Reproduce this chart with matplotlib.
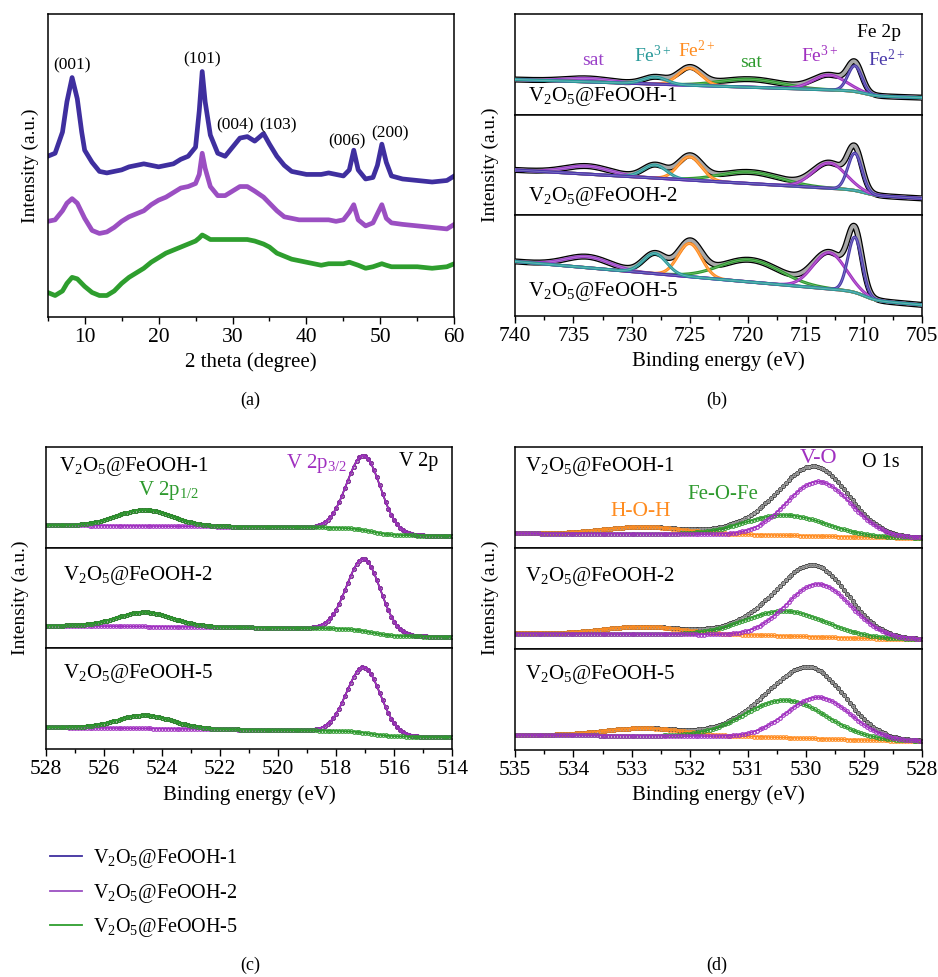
import numpy as np
import matplotlib
matplotlib.use('Agg')
import matplotlib.pyplot as plt
from matplotlib.lines import Line2D

plt.rcParams['font.family'] = ['Liberation Serif', 'DejaVu Serif']
plt.rcParams['mathtext.fontset'] = 'custom'
plt.rcParams['mathtext.rm'] = 'Liberation Serif'
plt.rcParams['mathtext.it'] = 'Liberation Serif:italic'
plt.rcParams['axes.linewidth'] = 1.1

# ---------------- data ----------------
samples = ['V$_2$O$_5$@FeOOH-1', 'V$_2$O$_5$@FeOOH-2', 'V$_2$O$_5$@FeOOH-5']
xrd_colors = ['#3f2f9f', '#9b4fc2', '#2e9e2e']

# XRD (a), intensities (a.u., stacked)
theta = [5, 6, 7, 7.6, 8.3, 9, 9.6, 10, 11, 12, 13, 14, 15, 16, 17, 18, 19, 20,
         21, 22, 23, 24, 25, 25.5, 25.9, 26.3, 27, 28, 29, 30, 31, 32, 33, 34.2,
         35, 36, 37, 38, 39, 40, 41, 42, 43, 44, 45, 45.8, 46.4, 47, 48, 49,
         49.6, 50.2, 50.8, 51.5, 53, 55, 57, 59, 60]
xrd_1 = [53, 54, 61, 71, 79, 72, 61, 55, 51, 48, 47.5, 48, 48.5, 49.5, 50, 50.5,
         50, 49.5, 50, 50.5, 52, 53, 56, 68, 81, 71, 60, 54, 53, 56, 59, 59.5, 58,
         60.5, 57, 53, 50, 48, 47.5, 47, 47, 47, 47.5, 47, 46.5, 48.5, 55, 48.5,
         45.5, 46, 50, 57, 51, 46.5, 45.5, 45, 44.5, 45, 46.5]
xrd_2 = [31.5, 32, 35, 37.5, 39, 37.5, 34.5, 32.5, 28.5, 27.5, 28, 29.5, 31.5, 33,
         34, 35, 37, 38.5, 39.5, 41, 42.5, 43, 44, 47, 54, 49, 43, 40, 40, 41.5,
         43, 43, 41.5, 39.5, 37.5, 35, 33, 32.5, 32, 32, 32, 32, 32, 31.5, 32,
         34.5, 37, 32, 30, 31, 34, 37, 32.5, 31, 30.5, 30, 29.5, 29, 30.5]
xrd_5 = [8, 7, 8.5, 11, 13, 12.5, 11, 10, 8, 7, 7, 8.5, 11, 13, 14.5, 16, 18,
         19.5, 21, 22, 23, 24, 25, 26, 27, 26.5, 25.5, 25.5, 25.5, 25.5, 25.5,
         25.5, 25, 24, 23, 21, 20, 19, 18.5, 18, 17.5, 17, 17.5, 17.5, 17.5, 18,
         17.5, 17, 16, 16.5, 17, 17.5, 17, 16.5, 16.5, 16.5, 16, 16.5, 17.5]
hkl_labels = ['(001)', '(101)', '(004)', '(103)', '(006)', '(200)']

# Fe 2p (b): components Fe2+ 2p3/2, Fe3+ 2p3/2, sat, Fe2+ 2p1/2, Fe3+ 2p1/2, sat
fe_colors = ['#4a3aaa', '#a030c0', '#2e9a2e', '#ff8c20', '#2a9a9a', '#9a40c8']
fe_centers = [710.8, 713.0, 719.8, 725.0, 728.0, 733.8]
fe_sigmas = [0.6, 1.4, 2.6, 1.0, 1.0, 1.9]
fe_heights = [[0.255, 0.147, 0.08, 0.17, 0.07, 0.035],
              [0.37, 0.25, 0.115, 0.23, 0.13, 0.08],
              [0.55, 0.36, 0.22, 0.33, 0.20, 0.11]]
# background: level at low-BE end, slope, step height
fe_bg = [[0.169, 0.0038, 0.047], [0.168, 0.0067, 0.048], [0.110, 0.0101, 0.078]]

# V 2p (c): V 2p3/2, V 2p1/2
v_colors = ['#a030c0', '#2e9a2e']
v_centers = [517.05, 524.6]
v_sigmas = [0.58, 0.95]
v_heights = [[0.74, 0.16], [0.715, 0.14], [0.65, 0.13]]
v_bg = [[0.116, 0.0023, 0.074], [0.115, 0.0027, 0.074], [0.119, 0.0034, 0.052]]

# O 1s (d): V-O, Fe-O-Fe, H-O-H
o_colors = ['#a030c0', '#2e9a2e', '#ff8c20']
o_centers = [529.78, 530.35, 532.8]
o_sigmas = [0.55, 0.7, 0.7]
o_heights = [[0.54, 0.20, 0.07], [0.525, 0.245, 0.075], [0.41, 0.37, 0.075]]
o_bg = [[0.099, 0.0025, 0.026], [0.096, 0.003, 0.035], [0.089, 0.0033, 0.036]]


def gauss(x, c, h, s):
    return h * np.exp(-(x - c) ** 2 / (2 * s ** 2))


def background(x, par, x_low, x_step, w):
    y0, slope, step = par
    return y0 + slope * (x - x_low) + step / (1 + np.exp(-(x - x_step) / w))


W, H = 938, 977
fig = plt.figure(figsize=(W / 100, H / 100), dpi=100)


def box(l, r, t, b):
    return [l / W, 1 - b / H, (r - l) / W, (b - t) / H]


def stack(l, r, t, b):
    h = (b - t) / 3
    axs = []
    for i in range(3):
        ax = fig.add_axes(box(l, r, t + i * h, t + (i + 1) * h))
        ax.set_yticks([])
        ax.set_ylim(0, 1)
        if i < 2:
            ax.tick_params(axis='x', which='both', length=0, labelbottom=False)
        axs.append(ax)
    return axs


def style_bottom(ax, major, minor, size=15.5):
    ax.set_xticks(major)
    ax.set_xticks(minor, minor=True)
    ax.tick_params(axis='x', which='major', direction='out', length=5, width=1,
                   labelsize=size, pad=3)
    ax.tick_params(axis='x', which='minor', direction='out', length=3, width=1)


# ---------------- (a) XRD ----------------
ax = fig.add_axes(box(47.7, 454.3, 14, 316.7))
for ys, c in zip([xrd_1, xrd_2, xrd_5], xrd_colors):
    ax.plot(theta, ys, color=c, lw=3.4, solid_joinstyle='round')
ax.set_xlim(5, 60)
ax.set_ylim(0, 100)
ax.set_yticks([])
style_bottom(ax, np.arange(10, 61, 10), np.arange(5, 60, 10))
ax.set_xlabel('2 theta (degree)', fontsize=15, labelpad=4)
ax.set_ylabel('Intensity (a.u.)', fontsize=14, labelpad=6)
hkl_pos = [(8.25, 83), (25.83, 85.1), (30.33, 63.3), (36.15, 63.3), (45.44, 57.8), (51.3, 60.4)]
for lab, (px, py) in zip(hkl_labels, hkl_pos):
    ax.text(px, py, lab, fontsize=12.5, ha='center', va='center')

# ---------------- (b) Fe 2p ----------------
axs = stack(515.3, 922.3, 14, 316)
xb = np.linspace(740, 705, 700)
for i, ax in enumerate(axs):
    bg = background(xb, fe_bg[i], 705, 710.0, 0.5)
    comps = [gauss(xb, c, h, s) for c, h, s in zip(fe_centers, fe_heights[i], fe_sigmas)]
    env = bg + sum(comps)
    ax.plot(xb, env, color='black', lw=4.4, zorder=2)
    ax.plot(xb, env, color='#a8a8a8', lw=2.6, zorder=3)
    order = [5, 2, 3, 1, 0, 4] if i != 1 else [5, 2, 3, 4, 1, 0]
    for k in order:
        ax.plot(xb, bg + comps[k], color=fe_colors[k], lw=2.2, zorder=4)
        ax.plot(xb, bg + comps[k], color='white', lw=0.5, alpha=0.35, zorder=4)
    ax.set_xlim(740, 705)
    ax.text(0.032, [0.18, 0.19, 0.24][i], samples[i], transform=ax.transAxes,
            fontsize=15, ha='left', va='center')
style_bottom(axs[2], np.arange(740, 704, -5), np.arange(737.5, 705, -5))
axs[2].set_xlabel('Binding energy (eV)', fontsize=15, labelpad=4)
t = axs[0]
t.text(0.894, 0.82, 'Fe 2p', transform=t.transAxes, fontsize=14, ha='center', va='center')
fe_text = [('sat', 0.192, 0.54, fe_colors[5]), ('Fe$^{3+}$', 0.337, 0.59, fe_colors[4]),
           ('Fe$^{2+}$', 0.446, 0.64, fe_colors[3]), ('sat', 0.579, 0.52, fe_colors[2]),
           ('Fe$^{3+}$', 0.747, 0.59, fe_colors[1]), ('Fe$^{2+}$', 0.912, 0.55, fe_colors[0])]
for s, px, py, c in fe_text:
    t.text(px, py, s, transform=t.transAxes, fontsize=14, color=c, ha='center', va='center')

# ---------------- (c) V 2p ----------------
axs = stack(46, 452.3, 446.7, 749.3)
xc = np.linspace(528, 514, 141)
mk = dict(marker='o', ms=2.6, mfc='none', mew=0.8)
for i, ax in enumerate(axs):
    bg = background(xc, v_bg[i], 514, 516.8, 0.35)
    comps = [gauss(xc, c, h, s) for c, h, s in zip(v_centers, v_heights[i], v_sigmas)]
    env = bg + sum(comps)
    ax.plot(xc, env, color='black', lw=1.2, **mk)
    ax.plot(xc, bg + comps[0], color=v_colors[0], lw=1.2, **mk)
    ax.plot(xc, bg + comps[1], color=v_colors[1], lw=1.2, **mk)
    ax.set_xlim(528, 514)
    ax.text([0.032, 0.041, 0.041][i], [0.80, 0.727, 0.755][i], samples[i],
            transform=ax.transAxes, fontsize=15, ha='left', va='center')
style_bottom(axs[2], np.arange(528, 513, -2), np.arange(527, 514, -2))
axs[2].set_xlabel('Binding energy (eV)', fontsize=15, labelpad=4)
t = axs[0]
t.text(0.301, 0.57, 'V 2p$_{1/2}$', transform=t.transAxes, fontsize=15, color=v_colors[1],
       ha='center', va='center')
t.text(0.666, 0.835, 'V 2p$_{3/2}$', transform=t.transAxes, fontsize=15, color=v_colors[0],
       ha='center', va='center')
t.text(0.916, 0.85, 'V 2p', transform=t.transAxes, fontsize=14.5, ha='center', va='center')

# ---------------- (d) O 1s ----------------
axs = stack(515.3, 922.3, 446.7, 750)
xd = np.linspace(535, 528, 141)
for i, ax in enumerate(axs):
    bg = background(xd, o_bg[i], 528, 529.8, 0.5)
    comps = [gauss(xd, c, h, s) for c, h, s in zip(o_centers, o_heights[i], o_sigmas)]
    env = bg + sum(comps)
    ax.plot(xd, env, color='black', lw=1.2, **mk)
    ax.plot(xd, env, color='#9a9a9a', lw=0.8, marker='o', ms=2.0, mfc='none', mew=0.7)
    for k in [2, 1, 0]:
        ax.plot(xd, bg + comps[k], color=o_colors[k], lw=1.0, **mk)
    ax.set_xlim(535, 528)
    ax.text(0.024, [0.80, 0.72, 0.75][i], samples[i], transform=ax.transAxes,
            fontsize=15, ha='left', va='center')
style_bottom(axs[2], np.arange(535, 527, -1), np.arange(534.5, 528, -1))
axs[2].set_xlabel('Binding energy (eV)', fontsize=15, labelpad=4)
t = axs[0]
t.text(0.308, 0.36, 'H-O-H', transform=t.transAxes, fontsize=15.5, color=o_colors[2],
       ha='center', va='center')
t.text(0.511, 0.53, 'Fe-O-Fe', transform=t.transAxes, fontsize=15, color=o_colors[1],
       ha='center', va='center')
t.text(0.744, 0.88, 'V-O', transform=t.transAxes, fontsize=16, color=o_colors[0],
       ha='center', va='center')
t.text(0.898, 0.84, 'O 1s', transform=t.transAxes, fontsize=14.5, ha='center', va='center')

# y labels of stacked panels
for px, py in [(490, 165), (20, 598), (490, 598)]:
    fig.text(px / W, 1 - py / H, 'Intensity (a.u.)', rotation=90, fontsize=14,
             ha='center', va='center')

# panel letters
for s, px, py in [('(a)', 250, 400), ('(b)', 717, 400), ('(c)', 250, 965), ('(d)', 717, 965)]:
    fig.text(px / W, 1 - py / H, s, fontsize=13, ha='center', va='center')

# legend
handles = [Line2D([], [], color=c, lw=1.3) for c in xrd_colors]
fig.legend(handles, samples, loc='upper left', bbox_to_anchor=(42 / W, 1 - 839 / H),
           frameon=False, fontsize=14.5, handlelength=1.6, handletextpad=0.55,
           labelspacing=0.58, borderaxespad=0)

fig.savefig('out.png', dpi=100)
